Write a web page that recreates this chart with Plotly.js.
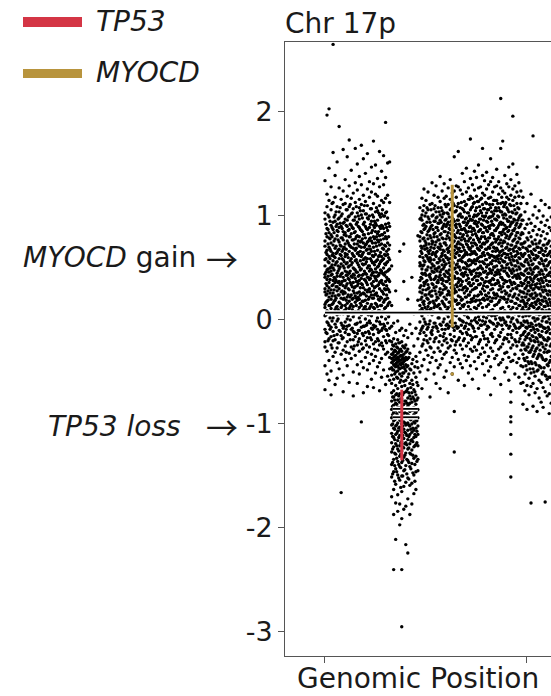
<!DOCTYPE html>
<html>
<head>
<meta charset="utf-8">
<script src="https://cdn.plot.ly/plotly-3.0.1.min.js"></script>
<style>
  html, body { margin: 0; padding: 0; overflow: hidden; background: #fff; }
  #chart { width: 560px; height: 696px; }
</style>
</head>
<body>
<div id="chart"></div>
<script>
// Chromosome 17p copy-number profile: probes binned by position (Mb),
// log2 copy ratios stored as integers (x100) per bin.
const binStartMb = [0,0.2,0.4,0.6,0.8,1,1.2,1.4,1.6,1.8,2,2.2,2.4,2.6,2.8,3,3.2,3.4,3.6,3.8,4,4.2,4.4,4.6,4.8,5,5.2,5.4,5.6,5.8,6,6.2,6.4,
  6.6,6.8,7,7.2,7.4,7.6,7.8,8,8.2,8.4,8.6,8.8,9,9.2,
  9.4,9.6,9.8,10,10.2,10.4,10.6,10.8,11,11.2,11.4,11.6,11.8,12,12.2,12.4,12.6,12.8,13,13.2,13.4,13.6,13.8,14,14.2,14.4,14.6,14.8,15,15.2,15.4,15.6,15.8,16,16.2,16.4,16.6,16.8,17,
  17.2,17.4,17.6,17.8,18,18.2,18.4,18.6,18.8,19,19.2,19.4,
  19.6,19.8,20,20.2,20.4,20.6,20.8,21,21.2,21.4,21.6,21.8,22,22.2,22.4];

const binRatio = [
  [134,103,97,76,71,58,52,44,41,30,27,15,12,4,-9,-21,-26,-44,-67],
  [197,121,109,88,80,67,63,48,39,33,25,18,9,-2,-13,-30,-52],
  [203,146,115,99,84,79,70,61,55,46,36,31,22,14,-5,-18,-39,-58],
  [128,106,91,82,74,66,51,47,43,29,20,11,7,-7,-16,-24,-49,-72],
  [265,161,113,94,87,72,64,57,50,38,34,26,16,2,-11,-20,-35],
  [139,118,101,95,78,69,60,53,40,36,23,19,10,-4,-19,-31,-62],
  [152,109,92,86,81,65,56,45,42,32,28,13,5,-1,-14,-27,-41,-56],
  [186,127,104,98,89,75,68,59,49,37,30,24,17,8,-10,-22,-47],
  [116,100,90,79,71,62,54,44,35,27,21,12,-3,-15,-33,-166],
  [164,124,111,93,85,77,68,58,52,41,33,25,20,6,-8,-17,-29,-53,-69],
  [135,112,97,84,73,64,61,47,38,31,26,14,9,-2,-12,-25,-38],
  [157,119,106,96,90,76,63,55,46,43,35,22,16,1,-6,-21,-44],
  [173,129,109,100,87,80,72,66,52,45,39,29,18,11,-5,-14,-32,-60],
  [144,117,102,91,83,70,59,53,42,34,24,15,7,-9,-26,-37],
  [122,107,96,88,77,69,62,50,44,36,28,21,13,3,-11,-19,-28,-50,-73],
  [165,132,113,99,85,78,67,57,48,40,32,23,17,8,-4,-16,-34],
  [150,125,103,94,81,73,64,55,46,37,33,26,19,-3,-13,-24,-43,-61],
  [138,116,108,97,89,80,71,62,51,43,38,27,20,12,2,-10,-18,-30,-52],
  [168,130,111,101,86,76,70,61,49,40,35,25,14,5,-7,-23,-40,-98],
  [155,120,105,92,82,74,65,58,53,44,31,26,18,10,-6,-15,-27,-46,-70],
  [141,114,102,90,79,72,60,54,45,38,29,19,13,1,-12,-20,-36],
  [160,126,110,98,87,75,68,59,50,41,34,27,16,6,-3,-17,-31,-48,-64],
  [133,118,100,89,78,71,64,52,47,39,30,22,11,-1,-13,-26,-42],
  [147,123,107,95,84,76,66,57,48,43,35,24,15,4,-8,-19,-33,-57],
  [172,131,112,99,91,80,70,61,55,46,37,28,21,12,-5,-14,-23,-39,-65],
  [149,121,104,93,85,74,63,56,49,40,32,25,16,7,-6,-21,-35,-51],
  [136,119,105,96,83,77,67,58,51,42,33,23,13,2,-9,-18,-29,-45],
  [162,128,110,101,90,81,72,62,54,45,36,30,19,9,-2,-11,-24,-41,-68],
  [143,115,102,91,82,73,61,57,47,38,28,21,14,3,-10,-22,-37,-55],
  [158,130,113,100,88,78,68,59,50,44,34,25,17,8,-4,-16,-28,-48],
  [190,137,117,103,92,80,71,62,53,46,37,29,20,12,1,-9,-20,-33,-62],
  [151,120,98,86,74,63,56,47,39,30,21,14,-3,-14,-31,-54],
  [152,113,90,72,58,49,37,27,17,6,-8,-20,-36,-47,-58],

  [52,14,-6,-21,-28,-33,-37,-41,-46,-53,-61,-70,-78,-86,-94,-101,-109,-118,-127,-139,-151,-170],
  [-3,-18,-25,-31,-36,-39,-43,-48,-57,-68,-74,-82,-89,-97,-104,-113,-122,-134,-146,-163,-187,-240],
  [28,-12,-23,-30,-34,-38,-42,-45,-50,-63,-72,-80,-87,-95,-102,-110,-119,-129,-143,-158,-176,-211],
  [-1,-19,-27,-32,-36,-40,-44,-49,-56,-66,-77,-84,-92,-99,-107,-116,-124,-136,-149,-168,-184],
  [66,-10,-22,-29,-35,-39,-42,-47,-52,-60,-71,-79,-88,-96,-103,-111,-121,-131,-141,-154,-177,-197],
  [-8,-21,-30,-34,-38,-41,-46,-54,-64,-76,-85,-93,-100,-108,-117,-126,-137,-150,-165,-191,-240,-295],
  [73,37,-15,-26,-33,-37,-40,-45,-51,-59,-70,-81,-90,-98,-105,-114,-123,-132,-145,-160,-182],
  [-10,-24,-31,-36,-43,-49,-58,-69,-78,-86,-94,-101,-109,-118,-128,-140,-156,-179,-216],
  [20,-17,-28,-37,-44,-55,-66,-75,-83,-91,-99,-106,-115,-124,-135,-152,-172,-224],
  [-4,-32,-47,-61,-73,-80,-88,-95,-102,-110,-119,-128,-141,-159,-187],
  [41,-13,-42,-58,-70,-79,-87,-93,-100,-108,-115,-125,-138,-157,-177],
  [6,-25,-51,-67,-76,-84,-91,-98,-106,-113,-122,-133,-149,-167],
  [-8,-35,-55,-72,-81,-89,-96,-104,-112,-120,-131,-146,-163],
  [81,19,-18,-46,-63,-75,-86,-94,-102,-110,-121,-134,-145],

  [108,97,80,76,61,55,52,38,31,27,14,9,-2,-13,-31,-50],
  [117,101,96,84,69,64,49,45,40,26,22,11,4,-8,-25,-44,-66],
  [126,110,92,87,79,71,57,53,36,33,18,15,1,-12,-19,-38],
  [115,103,90,74,72,62,48,43,37,29,24,8,-4,-15,-29,-57],
  [123,106,99,85,78,66,59,51,34,30,20,13,6,-7,-22,-34,-48],
  [111,94,88,81,67,60,56,44,41,27,17,10,-1,-18,-26,-41,-74],
  [132,112,100,91,76,73,63,54,47,35,28,23,5,-10,-14,-36],
  [120,107,95,83,80,69,58,52,46,39,31,16,12,-3,-21,-31,-52],
  [129,104,98,89,75,65,61,49,42,32,25,19,7,-6,-17,-39,-61],
  [118,108,93,86,77,70,55,50,38,36,21,14,2,-11,-27,-46],
  [138,114,101,96,82,73,68,57,46,43,30,24,11,-4,-15,-30,-43,-66],
  [124,105,99,88,79,64,62,53,40,35,26,18,8,-9,-24,-37],
  [131,117,103,92,85,74,66,56,51,44,33,22,15,1,-13,-20,-33,-55],
  [119,109,97,90,78,72,60,54,47,37,31,20,6,-5,-18,-31,-49],
  [127,111,102,94,84,69,65,58,45,41,28,25,12,3,-8,-27,-70],
  [135,116,106,91,87,77,71,59,52,43,35,24,17,8,-2,-14,-25,-41],
  [122,113,98,93,81,74,63,55,50,38,32,21,13,-3,-20,-36,-52],
  [157,124,110,104,95,82,76,67,61,49,42,30,26,10,5,-10,-16,-29,-45,-88,-127],
  [129,118,105,92,89,79,70,64,53,46,34,27,19,4,-6,-21,-32],
  [162,128,112,100,96,86,75,68,57,51,40,36,23,16,7,-7,-19,-38,-58],
  [125,108,102,90,83,73,66,58,48,39,33,22,11,0,-11,-24,-42],
  [141,121,107,99,87,80,72,60,56,45,37,29,20,14,-1,-13,-28,-46],
  [133,114,104,94,88,78,67,62,50,44,31,26,15,5,-8,-18,-34,-63],
  [146,123,111,98,91,84,73,65,54,49,38,28,22,9,-3,-12,-25,-39],
  [127,116,103,95,85,76,70,57,52,40,35,24,13,2,-9,-22,-35,-51],
  [174,136,119,106,97,90,79,69,63,53,46,33,27,17,10,-4,-15,-28,-44],
  [130,117,109,96,88,82,71,64,55,47,39,29,18,8,-6,-17,-30,-57],
  [143,125,113,101,93,86,74,66,58,48,41,30,23,12,0,-11,-26,-40],
  [137,119,108,100,92,81,72,63,57,45,38,31,19,11,-2,-16,-29,-47],
  [149,127,114,102,94,85,77,68,60,50,42,34,24,14,3,-8,-23,-36,-66],
  [128,116,105,97,87,78,71,61,52,44,35,27,16,6,-5,-19,-33],
  [165,139,122,111,100,91,84,73,64,56,49,39,30,20,12,-1,-12,-27,-42],
  [134,120,107,99,89,80,73,62,54,46,36,28,19,7,-4,-18,-31,-53],
  [142,126,112,103,95,86,75,68,58,51,41,32,23,13,2,-9,-24,-39],
  [130,117,106,98,90,79,70,63,53,45,37,26,15,5,-7,-21,-35,-49],
  [155,133,118,108,99,91,82,72,62,55,47,38,29,18,9,-2,-14,-27,-45,-72],
  [137,123,111,100,92,83,74,66,57,48,40,30,21,10,-3,-16,-30],
  [128,115,105,97,86,78,69,60,51,43,34,24,14,4,-9,-22,-37,-56],
  [145,129,115,105,96,88,77,69,61,52,44,35,25,15,5,-6,-19,-34],

  [133,121,108,99,91,80,73,62,56,46,36,29,17,8,-4,-15,-28,-43],
  [213,165,127,112,104,94,84,77,66,59,48,41,30,22,11,0,-12,-26,-41,-62],
  [172,124,113,101,93,85,74,67,57,50,39,32,21,12,2,-9,-23,-38],
  [139,122,111,102,91,83,75,64,56,47,38,28,20,9,-3,-17,-32,-50],
  [131,118,108,97,89,81,70,63,53,45,37,26,17,6,-5,-18,-31,-46],
  [147,128,116,104,95,86,78,67,60,50,42,32,23,13,3,-8,-21,-36,-58],
  [135,120,110,99,92,82,72,64,55,47,36,28,18,10,-2,-14,-27,-40,-69,-79,-93,-98,-110,-129,-151],
  [196,150,126,115,103,94,86,76,68,58,49,41,30,22,12,2,-10,-24,-39],
  [129,118,106,96,88,78,70,61,52,43,35,25,16,6,-6,-19,-33,-52],
  [140,123,112,103,93,84,74,66,57,48,40,30,21,11,0,-12,-25,-41],
  [132,119,107,98,89,79,69,60,51,42,33,24,14,4,-8,-21,-37,-55],
  [124,112,101,92,82,73,64,54,45,36,27,18,8,-3,-15,-29,-44,-61],

  [118,96,83,70,61,52,44,35,27,19,12,3,-5,-14,-22,-33,-45,-60,-81],
  [104,88,75,64,56,47,38,30,22,15,6,-2,-11,-19,-28,-39,-52,-68],
  [112,92,79,68,58,49,41,33,25,16,9,-1,-8,-17,-26,-36,-48,-63,-86],
  [97,84,71,62,53,45,36,28,20,11,4,-6,-13,-23,-31,-42,-56,-72],
  [121,93,80,66,57,48,39,31,23,14,7,-3,-10,-20,-29,-40,-51,-64,-176],
  [177,101,86,73,63,54,46,37,29,21,13,2,-7,-16,-25,-35,-47,-61,-83],
  [109,90,77,67,58,50,42,34,26,17,8,-1,-12,-21,-30,-41,-54,-70],
  [147,98,82,70,60,51,43,35,24,18,10,1,-9,-18,-27,-37,-49,-66,-88],
  [105,87,74,65,55,46,38,30,19,12,5,-4,-14,-24,-33,-44,-58,-75],
  [115,94,81,69,59,48,40,32,23,15,6,-5,-15,-22,-34,-46,-60,-79],
  [100,85,72,63,54,44,36,27,18,9,2,-7,-17,-26,-38,-50,-65,-84],
  [111,91,78,66,57,49,41,29,21,13,3,-8,-19,-28,-39,-53,-69,-175],
  [96,83,73,62,52,43,34,25,16,7,-2,-11,-20,-31,-43,-57,-73],
  [108,89,76,64,55,45,37,28,20,10,1,-9,-18,-30,-41,-55,-71,-90],
  [99,86,71,61,50,42,33,24,14,5,-4,-13,-23,-35,-48,-62,-80]
];

// Second set of probe bins, offset by 0.1 Mb (dense core of each arm)
const midBinMb = [0.1,0.3,0.5,0.7,0.9,1.1,1.3,1.5,1.7,1.9,2.1,2.3,2.5,2.7,2.9,3.1,3.3,3.5,3.7,3.9,4.1,4.3,4.5,4.7,4.9,5.1,5.3,5.5,5.7,5.9,6.1,6.3,
  6.7,6.9,7.1,7.3,7.5,7.7,7.9,8.1,8.3,8.5,8.7,8.9,9.1,
  9.5,9.7,9.9,10.1,10.3,10.5,10.7,10.9,11.1,11.3,11.5,11.7,11.9,12.1,12.3,12.5,12.7,12.9,13.1,13.3,13.5,13.7,13.9,14.1,14.3,14.5,14.7,14.9,15.1,15.3,15.5,15.7,15.9,16.1,16.3,16.5,16.7,16.9,17.1,17.3,17.5,17.7,17.9,18.1,18.3,18.5,18.7,18.9,19.1,19.3,19.5,
  19.7,19.9,20.1,20.3,20.5,20.7,20.9,21.1,21.3,21.5,21.7,21.9,22.1,22.3];

const midBinRatio = [
  [92,83,65,59,46,35,24,17,5,-12],
  [101,87,73,56,49,42,28,19,8,-3,-20],
  [95,78,68,59,50,39,26,14,2,-9],
  [112,89,80,62,53,44,33,23,15,-1,-27],
  [99,84,76,61,48,41,29,18,7,-15],
  [104,90,71,64,55,38,32,21,12,-7],
  [97,85,77,67,52,47,36,24,10,1,-22],
  [108,93,72,63,51,42,34,16,6,-11],
  [102,88,79,66,59,45,37,28,14,-5,-18],
  [94,82,70,56,50,38,27,21,9,-6],
  [106,91,81,68,54,43,33,19,11,-9,-31],
  [99,86,74,60,51,40,30,24,4,-14],
  [111,92,80,71,57,47,36,22,13,0,-19],
  [103,89,77,64,55,41,32,20,10,-8],
  [96,84,73,61,49,43,31,26,6,-12,-25],
  [109,92,80,69,58,46,37,21,14,-4],
  [100,90,76,65,53,42,35,22,9,-10,-21],
  [105,87,75,66,57,48,31,24,16,-2],
  [98,85,78,63,54,43,34,18,7,-13,-28],
  [110,94,82,70,59,47,39,25,12,-6],
  [102,88,73,67,56,44,36,23,10,-5,-24],
  [97,83,76,64,52,41,29,20,5,-11],
  [107,92,79,68,59,49,40,27,13,-3,-17],
  [101,86,74,62,55,45,33,21,8,-9],
  [95,89,78,66,53,42,31,24,11,-7,-28],
  [108,91,80,71,57,46,38,26,15,-1],
  [103,85,75,61,52,43,34,20,9,-12,-20],
  [99,88,77,65,56,48,37,22,14,-4],
  [106,90,82,69,58,45,35,27,8,-8,-25],
  [100,84,72,63,54,43,30,19,11,-6],
  [104,89,78,66,55,41,33,24,6,-10,-22],
  [93,80,68,60,48,39,29,16,3,-15],

  [-24,-33,-40,-48,-74,-83,-91,-100,-112,-124,-137,-148],
  [-29,-35,-44,-52,-77,-86,-96,-105,-115,-128,-140,-155],
  [-26,-37,-41,-55,-71,-81,-90,-101,-109,-121,-133,-146],
  [-22,-31,-38,-46,-73,-84,-94,-104,-113,-126,-139,-152],
  [-28,-34,-43,-58,-76,-87,-97,-106,-118,-129,-142,-161],
  [-25,-36,-42,-51,-72,-82,-92,-102,-111,-122,-135,-150],
  [-27,-39,-47,-63,-78,-89,-99,-108,-119,-130,-144],
  [-30,-38,-45,-68,-80,-90,-100,-111,-120,-134,-148],
  [-36,-52,-70,-81,-92,-101,-112,-123,-137,-153],
  [-48,-65,-76,-86,-96,-105,-116,-129,-143],
  [-38,-62,-74,-85,-94,-104,-117,-130,-147],
  [-45,-69,-78,-88,-99,-110,-121,-139,-155],
  [-40,-60,-77,-87,-97,-107,-118,-136],

  [98,85,71,66,53,41,33,20,7,-10],
  [105,91,78,60,52,44,29,17,9,-6,-23],
  [100,88,76,68,56,45,35,24,12,-2],
  [108,94,82,69,61,48,38,21,10,-9,-20],
  [97,86,73,64,57,43,31,25,16,-4],
  [106,90,79,70,58,50,39,23,11,-12,-27],
  [101,87,75,65,52,46,34,18,8,-7],
  [110,95,84,72,63,49,40,28,14,-3,-18],
  [99,89,80,66,55,47,36,22,13,-8],
  [104,93,77,69,59,51,41,27,15,2,-21],
  [108,94,83,71,61,48,39,26,9,-5],
  [102,90,78,67,58,49,38,29,16,-2,-16],
  [111,96,85,74,62,53,42,30,13,-9],
  [103,92,81,68,60,46,37,24,10,-4,-22],
  [99,88,79,66,55,48,39,27,17,-6],
  [107,95,83,72,63,52,43,31,14,-1,-19],
  [112,97,86,75,64,55,41,33,20,-7],
  [104,91,80,71,60,50,40,28,18,-3,-24],
  [109,96,84,73,65,54,45,32,15,-8],
  [101,92,79,69,62,51,38,29,16,1,-17],
  [113,99,87,77,66,57,44,34,19,-5],
  [106,94,82,70,61,50,42,31,13,-2,-20],
  [110,97,86,76,64,55,46,32,22,-6],
  [103,93,81,72,63,52,43,30,17,3,-14],
  [116,100,89,78,68,58,48,36,24,-4],
  [108,96,85,74,66,57,44,33,20,-1,-19],
  [112,99,88,77,65,56,47,35,21,-8],
  [105,95,83,73,64,54,42,31,18,2,-16],
  [114,101,90,79,69,59,49,38,23,-3],
  [109,97,86,75,67,56,45,34,19,0,-21],
  [117,103,92,80,70,61,50,40,25,-5],
  [107,96,84,74,65,55,46,33,21,3,-15],
  [113,100,89,78,68,58,47,37,24,-2],
  [106,94,85,76,64,53,44,32,20,-6,-18],
  [111,99,88,79,69,60,49,36,22,-1],
  [104,95,83,73,62,54,45,34,18,4,-13],
  [115,102,91,81,70,61,51,39,26,-4],
  [108,97,86,75,66,57,46,35,21,1,-20],
  [112,100,89,78,67,59,48,38,23,-3],
  [105,93,84,74,65,55,44,33,19,2,-16],
  [118,104,92,82,71,62,52,41,27,-5],
  [109,98,87,76,64,56,47,35,22,0,-19],
  [113,101,88,79,69,60,50,37,25,-2],
  [106,95,85,73,63,54,43,32,20,3,-14],
  [111,99,90,80,68,58,48,38,24,-6],
  [104,94,83,72,61,53,45,34,18,1,-17],
  [110,97,86,77,66,57,47,36,23,-4],
  [102,91,81,71,62,52,42,31,16,-8,-21],
  [108,96,84,75,64,55,44,33,20,-2],
  [100,90,78,68,59,49,40,28,14,-7,-18],
  [96,84,73,62,53,44,33,22,10,-5,-24],

  [74,63,52,43,35,26,17,9,-1,-12,-24,-37],
  [69,58,48,39,31,22,13,4,-7,-16,-29,-44],
  [77,66,55,45,36,28,19,8,-3,-14,-26,-40],
  [71,60,50,41,33,24,14,5,-6,-18,-31,-47],
  [75,64,53,44,34,25,16,7,-4,-15,-27,-42],
  [68,59,49,40,30,21,12,2,-9,-20,-33,-50],
  [73,62,51,42,32,23,15,6,-5,-17,-28,-43],
  [70,61,50,39,31,20,11,1,-10,-21,-35,-48],
  [76,65,54,44,35,25,16,6,-6,-16,-29,-45],
  [67,57,47,38,29,19,10,-1,-11,-23,-36,-52],
  [72,62,52,41,32,22,13,3,-8,-19,-31,-46],
  [69,58,48,38,28,18,9,-2,-12,-24,-38,-54],
  [74,63,53,43,33,24,14,4,-7,-17,-30,-44],
  [66,56,46,37,27,17,8,-3,-13,-25,-39,-55]
];

// Segmented copy-number calls (start Mb, end Mb, mean log2 ratio)
const segStartMb = [0, 6.7, 6.7];
const segEndMb = [23.3, 9.2, 9.2];
const segLog2 = [0.07, -0.855, -0.935];

// Highlighted genes
const geneNames = ['TP53', 'MYOCD'];
const genePosMb = [7.6, 12.6];
const geneLowLog2 = [-1.35, -0.07];
const geneHighLog2 = [-0.67, 1.30];
const geneColors = ['#d43545', '#b8943d'];
const myocdProbeMb = [12.6];
const myocdProbeLog2 = [-0.52];

const xTickVals = [0, 20];
const yTickVals = [-3, -2, -1, 0, 1, 2];
const yTickText = ['-3', '-2', '-1', '0', '1', '2'];

const probeX = [], probeY = [];
function addBins(positions, ratios) {
  positions.forEach((pos, i) => {
    (ratios[i] || []).forEach(v => { probeX.push(pos); probeY.push(v / 100); });
  });
}
addBins(binStartMb, binRatio);
addBins(midBinMb, midBinRatio);

const segX = [], segY = [];
segStartMb.forEach((s, i) => {
  segX.push(s, segEndMb[i], null);
  segY.push(segLog2[i], segLog2[i], null);
});

const traces = [
  { type: 'scatter', mode: 'markers', x: probeX, y: probeY,
    marker: { size: 3.4, color: '#000' }, hoverinfo: 'skip' },
  { type: 'scatter', mode: 'lines', x: segX, y: segY,
    line: { color: '#fff', width: 5 }, hoverinfo: 'skip' },
  { type: 'scatter', mode: 'lines', x: segX, y: segY,
    line: { color: '#000', width: 1.8 }, hoverinfo: 'skip' }
];
geneNames.forEach((g, i) => {
  traces.push({ type: 'scatter', mode: 'lines', name: g,
    x: [genePosMb[i], genePosMb[i]], y: [geneLowLog2[i], geneHighLog2[i]],
    line: { color: geneColors[i], width: 3 }, hoverinfo: 'skip' });
});
traces.push({ type: 'scatter', mode: 'markers', x: myocdProbeMb, y: myocdProbeLog2,
  marker: { size: 3.6, color: geneColors[1] }, hoverinfo: 'skip' });

const FONT = 'DejaVu Sans, Liberation Sans, Arial, sans-serif';
const ARROW_FONT = 'Noto Sans CJK JP, DejaVu Sans, sans-serif';
const TXT = '#1a1a1a';
const W = 560, H = 696, ML = 285, MT = 42, MB = 40;
const PW = W - ML, PH = H - MT - MB;
const px = v => (v - ML) / PW;          // page x (px) -> paper x
const py = v => (H - MB - v) / PH;      // page y (px) -> paper y

const legendShapes = geneNames.map((g, i) => ({
  type: 'rect', xref: 'paper', yref: 'paper', line: { width: 0 },
  fillcolor: geneColors[i],
  x0: px(23), x1: px(82), y0: py([27, 78][i]), y1: py([17, 69][i])
}));

const txt = (size, family) => ({ family: family || FONT, size: size, color: TXT });

const layout = {
  width: W, height: H,
  margin: { l: ML, r: 0, t: MT, b: MB, pad: 0 },
  showlegend: false,
  paper_bgcolor: '#fff', plot_bgcolor: '#fff',
  font: txt(28),
  xaxis: {
    range: [-3.96, 23.27], tickvals: xTickVals, ticktext: ['', ''],
    ticks: 'outside', ticklen: 6, tickcolor: '#555', tickwidth: 1,
    showline: true, linecolor: '#555', linewidth: 1, mirror: true,
    showgrid: false, zeroline: false, fixedrange: true
  },
  yaxis: {
    range: [-3.231, 2.673], tickvals: yTickVals, ticktext: yTickText,
    ticks: 'outside', ticklen: 6, tickcolor: '#555', tickwidth: 1,
    tickfont: txt(27),
    showline: true, linecolor: '#555', linewidth: 1, mirror: true,
    showgrid: false, zeroline: false, fixedrange: true
  },
  shapes: legendShapes,
  annotations: [
    { text: 'Chr 17p', xref: 'paper', yref: 'paper', x: 0, y: 1,
      xanchor: 'left', yanchor: 'bottom', xshift: -2, showarrow: false, font: txt(28) },
    { text: 'Genomic Position', xref: 'paper', yref: 'paper', x: px(418), y: 0,
      xanchor: 'center', yanchor: 'top', yshift: -4, showarrow: false, font: txt(28) },
    { text: '<i>TP53</i>', xref: 'paper', yref: 'paper', x: px(94), y: py(22),
      xanchor: 'left', yanchor: 'middle', showarrow: false, font: txt(28) },
    { text: '<i>MYOCD</i>', xref: 'paper', yref: 'paper', x: px(94), y: py(72),
      xanchor: 'left', yanchor: 'middle', showarrow: false, font: txt(28) },
    { text: '<i>MYOCD</i> gain', xref: 'paper', yref: 'y', x: px(198), y: 0.6,
      xanchor: 'right', yanchor: 'middle', showarrow: false, font: txt(28) },
    { text: '\u2192', xref: 'paper', yref: 'y', x: px(240), y: 0.6,
      xanchor: 'right', yanchor: 'middle', showarrow: false, font: txt(32, ARROW_FONT) },
    { text: '<i>TP53 loss</i>', xref: 'paper', yref: 'y', x: px(183), y: -1.02,
      xanchor: 'right', yanchor: 'middle', showarrow: false, font: txt(28) },
    { text: '\u2192', xref: 'paper', yref: 'y', x: px(240), y: -1.02,
      xanchor: 'right', yanchor: 'middle', showarrow: false, font: txt(32, ARROW_FONT) }
  ]
};

Plotly.newPlot('chart', traces, layout, { displayModeBar: false, staticPlot: true });
</script>
</body>
</html>
